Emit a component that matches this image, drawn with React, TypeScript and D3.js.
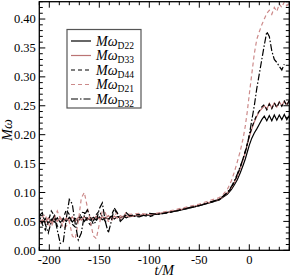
import React from "react";
import * as d3 from "d3";

// time axis (t/M), shared by all series
const times = [
  -210, -207, -204, -201, -198, -195, -192, -189, -186, -183, -180, -177, -174, -171, -168, -165,
  -162, -159, -156, -153, -150, -147, -144, -141, -138, -135, -132, -129, -126, -123, -120,
  -110, -100, -90, -80, -70, -60, -50, -40,
  -30, -26, -22, -18, -15, -12, -9, -6, -4, -2, 0,
  2.5, 5, 7.5, 10, 12.5, 15, 17.5, 20, 22.5, 25, 27.5, 30, 32.5, 35, 37.5, 40,
];

const omegaD22 = [
  0.052, 0.047, 0.055, 0.046, 0.054, 0.049, 0.056, 0.048, 0.055, 0.05, 0.057, 0.049, 0.055, 0.051, 0.058, 0.05,
  0.056, 0.052, 0.057, 0.052, 0.058, 0.053, 0.057, 0.054, 0.059, 0.054, 0.058, 0.056, 0.059, 0.056, 0.059,
  0.06, 0.061, 0.063, 0.066, 0.069, 0.073, 0.077, 0.082,
  0.087, 0.092, 0.097, 0.105, 0.113, 0.122, 0.134, 0.148, 0.158, 0.17, 0.182,
  0.194, 0.203, 0.21, 0.218, 0.226, 0.232, 0.224, 0.233, 0.224, 0.234, 0.225, 0.234, 0.226, 0.235, 0.226, 0.233,
];

const omegaD33 = [
  0.045, 0.053, 0.048, 0.056, 0.047, 0.055, 0.05, 0.057, 0.049, 0.056, 0.051, 0.058, 0.05, 0.057, 0.052, 0.058,
  0.053, 0.057, 0.053, 0.059, 0.054, 0.058, 0.055, 0.06, 0.055, 0.059, 0.056, 0.06, 0.057, 0.06, 0.058,
  0.061, 0.062, 0.064, 0.066, 0.07, 0.074, 0.078, 0.083,
  0.088, 0.093, 0.099, 0.108, 0.117, 0.128, 0.142, 0.158, 0.17, 0.183, 0.196,
  0.21, 0.222, 0.232, 0.24, 0.245, 0.25, 0.244, 0.254, 0.246, 0.255, 0.248, 0.257, 0.25, 0.258, 0.252, 0.259,
];

const omegaD44 = [
  0.06, 0.045, 0.035, 0.05, 0.068, 0.06, 0.042, 0.038, 0.055, 0.07, 0.062, 0.045, 0.04, 0.052, 0.066, 0.065,
  0.05, 0.044, 0.05, 0.062, 0.068, 0.058, 0.05, 0.052, 0.06, 0.072, 0.062, 0.054, 0.056, 0.062, 0.06,
  0.062, 0.058, 0.064, 0.065, 0.07, 0.073, 0.078, 0.082,
  0.088, 0.093, 0.099, 0.108, 0.118, 0.13, 0.144, 0.16, 0.172, 0.185, 0.198,
  0.212, 0.224, 0.234, 0.241, 0.248, 0.252, 0.243, 0.253, 0.245, 0.255, 0.247, 0.256, 0.249, 0.258, 0.25, 0.26,
];

const omegaD21 = [
  0.045, 0.058, 0.062, 0.045, 0.04, 0.055, 0.068, 0.055, 0.038, 0.042, 0.05, 0.025, 0.02, 0.05, 0.09, 0.1,
  0.075, 0.05, 0.025, 0.02, 0.045, 0.068, 0.065, 0.05, 0.05, 0.06, 0.065, 0.055, 0.058, 0.066, 0.062,
  0.064, 0.062, 0.065, 0.068, 0.072, 0.076, 0.08, 0.086,
  0.091, 0.097, 0.105, 0.12, 0.135, 0.153, 0.172, 0.195, 0.215, 0.24, 0.27,
  0.305, 0.34, 0.365, 0.378, 0.39, 0.4, 0.41, 0.415, 0.408, 0.42, 0.413, 0.426, 0.42, 0.43, 0.423, 0.428,
];

const omegaD32 = [
  0.06, 0.065, 0.045, 0.03, 0.05, 0.06, 0.035, 0.012, 0.015, 0.055, 0.088, 0.08, 0.045, 0.018, 0.03, 0.06,
  0.07, 0.058, 0.045, 0.05, 0.072, 0.082, 0.05, 0.03, 0.05, 0.073, 0.065, 0.05, 0.055, 0.065, 0.06,
  0.058, 0.064, 0.062, 0.066, 0.069, 0.074, 0.077, 0.083,
  0.088, 0.094, 0.1, 0.11, 0.12, 0.132, 0.145, 0.16, 0.17, 0.182, 0.2,
  0.225, 0.25, 0.28, 0.305, 0.33, 0.355, 0.378, 0.37, 0.345, 0.33, 0.325, 0.318, 0.312, 0.322, null, null,
];

const xTicksMajor = [-200, -150, -100, -50, 0];
const yTicksMajor = [0, 0.05, 0.1, 0.15, 0.2, 0.25, 0.3, 0.35, 0.4];

const series = [
  { sub: "D22", values: omegaD22, color: "#000000", dash: null },
  { sub: "D33", values: omegaD33, color: "#bb7474", dash: null },
  { sub: "D44", values: omegaD44, color: "#000000", dash: "4,3" },
  { sub: "D21", values: omegaD21, color: "#cc8a8a", dash: "4,3" },
  { sub: "D32", values: omegaD32, color: "#000000", dash: "7,2,1.5,2" },
];

const W = 291;
const H = 279;
const FONT = "'Liberation Serif', 'Times New Roman', serif";

export default function App() {
  const x = d3.scaleLinear().domain([-210, 40]).range([39.3, 289.3]);
  const y = d3.scaleLinear().domain([0, 0.43]).range([250.3, 1.7]);
  const [x0, x1] = x.range();
  const [y0, y1] = y.range();

  const line = d3
    .line<number | null>()
    .defined((d) => d !== null)
    .x((d, i) => x(times[i]))
    .y((d) => y(d as number));

  const xMinor = d3.range(-210, 41, 10).filter((t) => t % 50 !== 0);
  const yMinor = d3.range(0, 44).map((v) => v / 100).filter((v) => Math.round(v * 100) % 5 !== 0);

  return (
    <svg width={W} height={H} style={{ position: "absolute", left: 0, top: 0 }} fontFamily={FONT}>
      <rect width={W} height={H} fill="#fff" />
      <defs>
        <clipPath id="plot">
          <rect x={x0} y={y1 - 1} width={x1 - x0} height={y0 - y1 + 1} />
        </clipPath>
      </defs>

      <g clipPath="url(#plot)">
        {series.map((s) => (
          <path
            key={s.sub}
            d={line(s.values) || ""}
            fill="none"
            stroke={s.color}
            strokeWidth={1.2}
            strokeDasharray={s.dash || undefined}
          />
        ))}
      </g>

      {/* ticks, inward on all four sides */}
      <g stroke="#000" strokeWidth={1}>
        {xTicksMajor.map((t) => (
          <g key={"xm" + t}>
            <line x1={x(t)} x2={x(t)} y1={y0} y2={y0 - 6} />
            <line x1={x(t)} x2={x(t)} y1={y1} y2={y1 + 6} />
          </g>
        ))}
        {xMinor.map((t) => (
          <g key={"xn" + t}>
            <line x1={x(t)} x2={x(t)} y1={y0} y2={y0 - 3.5} />
            <line x1={x(t)} x2={x(t)} y1={y1} y2={y1 + 3.5} />
          </g>
        ))}
        {yTicksMajor.map((v) => (
          <g key={"ym" + v}>
            <line x1={x0} x2={x0 + 6} y1={y(v)} y2={y(v)} />
            <line x1={x1} x2={x1 - 6} y1={y(v)} y2={y(v)} />
          </g>
        ))}
        {yMinor.map((v) => (
          <g key={"yn" + v}>
            <line x1={x0} x2={x0 + 3.5} y1={y(v)} y2={y(v)} />
            <line x1={x1} x2={x1 - 3.5} y1={y(v)} y2={y(v)} />
          </g>
        ))}
      </g>
      <rect x={x0} y={y1} width={x1 - x0} height={y0 - y1} fill="none" stroke="#000" strokeWidth={1.3} />

      {/* tick labels */}
      <g fontSize={12.5} fill="#000">
        {xTicksMajor.map((t) => (
          <text key={"xl" + t} x={x(t)} y={y0 + 13.5} textAnchor="middle">
            {t}
          </text>
        ))}
        {yTicksMajor.map((v) => (
          <text key={"yl" + v} x={x0 - 3.5} y={y(v) + 4.3} textAnchor="end">
            {v.toFixed(2)}
          </text>
        ))}
      </g>

      <text x={(x0 + x1) / 2} y={275} textAnchor="middle" fontSize={14} fontStyle="italic">
        t/M
      </text>
      <text transform={`translate(12,${(y0 + y1) / 2 + 4}) rotate(-90)`} textAnchor="middle" fontSize={14} fontStyle="italic">
        Mω
      </text>

      {/* legend */}
      <rect x={67} y={29.5} width={74} height={78.5} fill="#fff" stroke="#555" strokeWidth={1.2} />
      {series.map((s, i) => {
        const ry = 41 + i * 14.5;
        return (
          <g key={"lg" + s.sub}>
            <line x1={71} x2={91} y1={ry} y2={ry} stroke={s.color} strokeWidth={1.2} strokeDasharray={s.dash || undefined} />
            <text x={96} y={ry + 4.5} fontSize={14}>
              <tspan fontStyle="italic">Mω</tspan>
              <tspan fontSize={9.5} dy={3}>
                {s.sub}
              </tspan>
            </text>
          </g>
        );
      })}
    </svg>
  );
}
